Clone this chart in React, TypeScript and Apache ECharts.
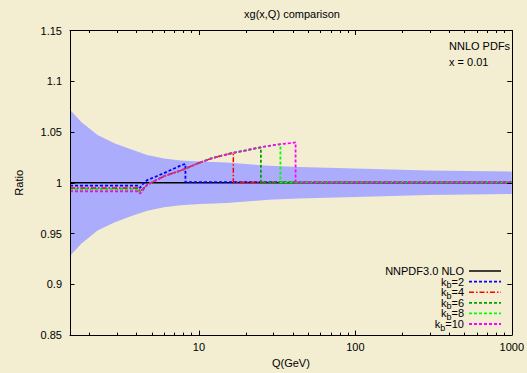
import React, { useEffect, useRef } from 'react';
import * as echarts from 'echarts';

// ---------- data ----------
const bandQ = [1.5, 1.77, 2.25, 2.88, 3.67, 4.67, 5.98, 7.64, 10.25, 15, 20, 27.9, 43.4, 100, 292, 1000];
const bandUpper = [1.072, 1.06, 1.047, 1.039, 1.033, 1.0275, 1.024, 1.022, 1.021, 1.02, 1.0185, 1.0167, 1.0155, 1.014, 1.012, 1.011];
const bandLower = [0.928, 0.94, 0.953, 0.961, 0.967, 0.9725, 0.976, 0.978, 0.979, 0.98, 0.9815, 0.9833, 0.9845, 0.986, 0.988, 0.989];

const nloQ = [1.5, 1000];
const nloR = [1.0, 1.0];

const kb2Q = [1.5, 4.1, 4.2, 4.4, 4.67, 5.98, 7.64, 8.2, 8.2, 1000];
const kb2R = [0.9972, 0.9972, 0.995, 0.999, 1.0026, 1.0095, 1.017, 1.0186, 1.0007, 1.0007];

const kb4Q = [1.5, 4.1, 4.2, 4.67, 5.98, 7.64, 10, 12, 14, 16.6, 16.6, 1000];
const kb4R = [0.9948, 0.9948, 0.9915, 0.998, 1.0065, 1.012, 1.0195, 1.024, 1.0268, 1.0295, 1.0005, 1.0005];

const kb6Q = [1.5, 4.1, 4.2, 4.67, 5.98, 7.64, 10, 12, 14, 16.6, 20, 24.9, 24.9, 1000];
const kb6R = [0.9935, 0.9935, 0.9905, 0.998, 1.0065, 1.012, 1.0195, 1.024, 1.0268, 1.0295, 1.032, 1.035, 1.0005, 1.0005];

const kb8Q = [1.5, 4.1, 4.2, 4.67, 5.98, 7.64, 10, 12, 14, 16.6, 20, 24.9, 30, 33.2, 33.2, 1000];
const kb8R = [0.993, 0.993, 0.99, 0.998, 1.0065, 1.012, 1.0195, 1.024, 1.0268, 1.0295, 1.032, 1.035, 1.037, 1.038, 1.0005, 1.0005];

const kb10Q = [1.5, 4.1, 4.2, 4.67, 5.98, 7.64, 10, 12, 14, 16.6, 20, 24.9, 30, 33.2, 38, 41.5, 41.5, 1000];
const kb10R = [0.9915, 0.9915, 0.9893, 0.998, 1.0065, 1.012, 1.0195, 1.024, 1.0268, 1.0295, 1.032, 1.035, 1.037, 1.038, 1.039, 1.0398, 1.0005, 1.0005];

const xMajorTicks = [10, 100, 1000];
const xMinorTicks = [2, 3, 4, 5, 6, 7, 8, 9, 20, 30, 40, 50, 60, 70, 80, 90, 200, 300, 400, 500, 600, 700, 800, 900];
const yMin = 0.85;
const yMax = 1.15;
const yStep = 0.05;
const xMin = 1.5;
const xMax = 1000;

const seriesNames = ['NNPDF3.0 NLO', 'kb=2', 'kb=4', 'kb=6', 'kb=8', 'kb=10'];
const seriesQ = [nloQ, kb2Q, kb4Q, kb6Q, kb8Q, kb10Q];
const seriesR = [nloR, kb2R, kb4R, kb6R, kb8R, kb10R];

// styles (kept apart from the data)
const seriesColors = ['#000000', '#0000ff', '#ff0000', '#00a000', '#00ff00', '#ff00ff'];
const seriesDash: (number[] | null)[] = [null, [3, 2], [5, 2, 1.5, 2], [3, 2], [3, 2], [3, 2]];
const seriesWidth = [1.5, 1.8, 1.5, 1.8, 1.8, 1.8];

const FONT = 'Liberation Sans, Arial, sans-serif';

const pairs = (q: number[], r: number[]) => q.map((v, i) => [v, r[i]]);

export default function App() {
  const ref = useRef<HTMLDivElement>(null);
  useEffect(() => {
    document.body.style.margin = '0';
    const chart = echarts.init(ref.current!, null, { renderer: 'svg' });

    const xAxisBase = {
      type: 'log',
      min: xMin,
      max: xMax,
      gridIndex: 0,
      splitLine: { show: false },
      minorTick: { show: false },
      axisLine: { onZero: false },
    };
    const yAxisBase = {
      type: 'value',
      min: yMin,
      max: yMax,
      interval: yStep,
      splitLine: { show: false },
      axisLine: { show: true, onZero: false, lineStyle: { color: '#000', width: 1 } },
      axisTick: { show: true, inside: true, length: 4.5, lineStyle: { color: '#000' } },
    };

    const lines = seriesNames.map((name, i) => ({
      name,
      type: 'line',
      data: pairs(seriesQ[i], seriesR[i]),
      symbol: 'none',
      xAxisIndex: 0,
      yAxisIndex: 0,
      lineStyle: {
        color: seriesColors[i],
        type: seriesDash[i] ? seriesDash[i] : 'solid',
        width: seriesWidth[i],
      },
      itemStyle: { color: seriesColors[i] },
      z: 3,
    }));

    // legend drawn as graphic (label + line sample), rows from top-right
    const legendTop = 271;
    const legendPitch = 10.6;
    const legendTextRight = 464;
    const legendLineX1 = 469;
    const legendLineX2 = 501;
    const richStyles = {
      t: { fontSize: 11, lineHeight: 11, fill: '#000', fontFamily: FONT },
      s: { fontSize: 9, lineHeight: 16, verticalAlign: 'bottom', fill: '#000', fontFamily: FONT },
    };
    const legendGraphics: any[] = [];
    seriesNames.forEach((name, i) => {
      const y = legendTop + i * legendPitch;
      const label = name.startsWith('kb=') ? `{t|k}{s|b}{t|=${name.slice(3)}}` : `{t|${name}}`;
      legendGraphics.push({
        type: 'text',
        x: legendTextRight,
        y,
        z: 100,
        silent: true,
        style: {
          text: label,
          rich: richStyles,
          fontSize: 11,
          fill: '#000',
          fontFamily: FONT,
          textAlign: 'right',
          textVerticalAlign: 'middle',
        },
      });
      legendGraphics.push({
        type: 'line',
        z: 100,
        silent: true,
        shape: { x1: legendLineX1, y1: y, x2: legendLineX2, y2: y },
        style: {
          stroke: seriesColors[i],
          lineWidth: seriesWidth[i],
          lineDash: seriesDash[i] ? seriesDash[i] : null,
        },
      });
    });

    const option: any = {
      animation: false,
      backgroundColor: '#f3edd2',
      textStyle: { fontFamily: FONT },
      grid: { left: 70, right: 13, top: 30.5, bottom: 36.5, containLabel: false },
      xAxis: [
        {
          ...xAxisBase,
          position: 'bottom',
          name: 'Q(GeV)',
          nameLocation: 'middle',
          nameGap: 20,
          nameTextStyle: { fontSize: 11, color: '#000', fontFamily: FONT },
          axisLine: { show: true, onZero: false, lineStyle: { color: '#000', width: 1 } },
          axisTick: { show: true, inside: true, length: 4.5, customValues: xMajorTicks, lineStyle: { color: '#000' } },
          axisLabel: {
            show: true,
            customValues: xMajorTicks,
            margin: 6,
            fontSize: 11,
            color: '#000',
            fontFamily: FONT,
            formatter: (v: number) => String(Math.round(v)),
          },
          z: 10,
        },
        {
          ...xAxisBase,
          position: 'bottom',
          axisLine: { show: false, onZero: false },
          axisTick: { show: true, inside: true, length: 2.5, customValues: xMinorTicks, lineStyle: { color: '#000' } },
          axisLabel: { show: false },
          z: 10,
        },
        {
          ...xAxisBase,
          position: 'top',
          axisLine: { show: true, onZero: false, lineStyle: { color: '#000', width: 1 } },
          axisTick: { show: true, inside: true, length: 4.5, customValues: xMajorTicks, lineStyle: { color: '#000' } },
          axisLabel: { show: false },
          z: 10,
        },
        {
          ...xAxisBase,
          position: 'top',
          axisLine: { show: false, onZero: false },
          axisTick: { show: true, inside: true, length: 2.5, customValues: xMinorTicks, lineStyle: { color: '#000' } },
          axisLabel: { show: false },
          z: 10,
        },
      ],
      yAxis: [
        {
          ...yAxisBase,
          position: 'left',
          name: 'Ratio',
          nameLocation: 'middle',
          nameGap: 46,
          nameTextStyle: { fontSize: 11, color: '#000', fontFamily: FONT },
          axisLabel: { show: true, margin: 8, fontSize: 11, color: '#000', fontFamily: FONT },
          z: 10,
        },
        {
          ...yAxisBase,
          position: 'right',
          axisLabel: { show: false },
          z: 10,
        },
      ],
      graphic: [
        {
          type: 'text',
          x: 292,
          y: 14,
          z: 100,
          style: { text: 'xg(x,Q) comparison', fontSize: 11, fill: '#000', fontFamily: FONT, textAlign: 'center', textVerticalAlign: 'middle' },
        },
        {
          type: 'text',
          x: 449,
          y: 46,
          z: 100,
          style: { text: 'NNLO PDFs', fontSize: 11, fill: '#000', fontFamily: FONT, textAlign: 'left', textVerticalAlign: 'middle' },
        },
        {
          type: 'text',
          x: 449,
          y: 61.5,
          z: 100,
          style: { text: 'x = 0.01', fontSize: 11, fill: '#000', fontFamily: FONT, textAlign: 'left', textVerticalAlign: 'middle' },
        },
        ...legendGraphics,
      ],
      series: [
        {
          name: 'band',
          type: 'custom',
          xAxisIndex: 0,
          yAxisIndex: 0,
          data: [[xMin, 1]],
          silent: true,
          z: 1,
          renderItem: (_params: any, api: any) => {
            const pts: number[][] = [];
            for (let i = 0; i < bandQ.length; i++) pts.push(api.coord([bandQ[i], bandUpper[i]]));
            for (let i = bandQ.length - 1; i >= 0; i--) pts.push(api.coord([bandQ[i], bandLower[i]]));
            return { type: 'polygon', shape: { points: pts }, style: { fill: '#acacfc' } };
          },
        },
        ...lines,
      ],
    };
    chart.setOption(option);
    return () => chart.dispose();
  }, []);
  return <div ref={ref} style={{ width: 527, height: 373 }} />;
}
